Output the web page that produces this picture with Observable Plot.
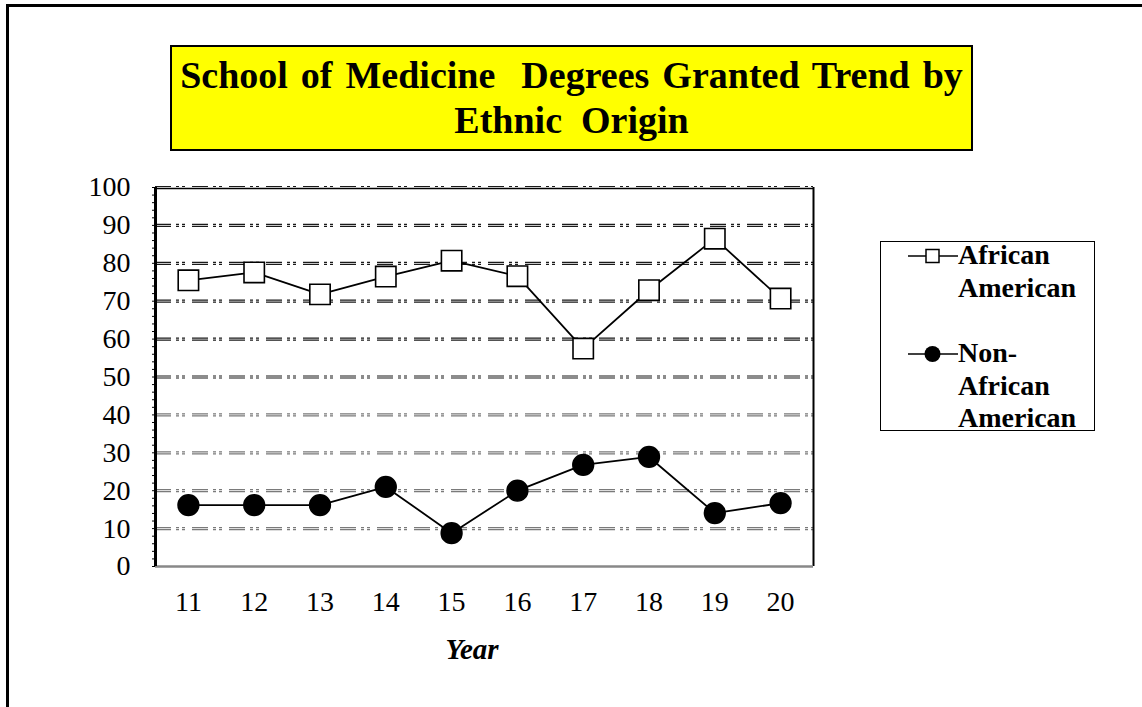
<!DOCTYPE html>
<html>
<head>
<meta charset="utf-8">
<script src="https://cdn.jsdelivr.net/npm/d3@7"></script>
<script src="https://cdn.jsdelivr.net/npm/@observablehq/plot@0.6"></script>
<style>
  html, body { margin: 0; padding: 0; background: #fff; }
  #wrap { position: relative; width: 1142px; height: 707px; overflow: hidden; background: #fff; font-family: "Liberation Serif", "Times New Roman", serif; }
  #frame { position: absolute; left: 6px; top: 4px; width: 2000px; height: 2000px; border-left: 3px solid #000; border-top: 3px solid #000; }
  #title { position: absolute; left: 170px; top: 45px; width: 799px; height: 96px; background: #ffff00; border: 2px solid #000; text-align: center; font-weight: bold; font-size: 38px; line-height: 45px; padding-top: 5.5px; box-sizing: content-box; white-space: pre; color: #000; }
  #title div { height: 45px; }
  #title .l1 { word-spacing: 3.5px; }
  #legend { position: absolute; left: 880px; top: 241px; width: 213px; height: 188px; border: 1.5px solid #000; background: #fff; }
  .ltext { position: absolute; left: 958px; font-weight: bold; font-size: 28px; line-height: 32.5px; white-space: pre; color: #000; }
  .lsym { position: absolute; left: 900px; }
  #xlabel { position: absolute; left: 372px; width: 200px; top: 631px; text-align: center; font-weight: bold; font-style: italic; font-size: 29px; line-height: 36px; }
  #chart { position: absolute; left: 0; top: 0; }
</style>
</head>
<body>
<div id="wrap">
  <div id="frame"></div>
  <div id="chart"></div>
  <div id="title"><div class="l1">School of Medicine  Degrees Granted Trend by</div><div>Ethnic  Origin</div></div>
  <div id="legend"></div>
  <svg class="lsym" style="top:246px" width="60" height="20">
    <line x1="8" x2="58" y1="10" y2="10" stroke="#000" stroke-width="1.5"></line>
    <rect x="26" y="3.5" width="13" height="13" fill="#fff" stroke="#000" stroke-width="1.5"></rect>
  </svg>
  <div class="ltext" style="top:239px">African
American</div>
  <svg class="lsym" style="top:344px" width="60" height="20">
    <line x1="8" x2="58" y1="10" y2="10" stroke="#000" stroke-width="1.5"></line>
    <circle cx="32.5" cy="10" r="8" fill="#000"></circle>
  </svg>
  <div class="ltext" style="top:337px">Non-
African
American</div>
  <div id="xlabel">Year</div>
</div>
<script>
const years = [11, 12, 13, 14, 15, 16, 17, 18, 19, 20];
const africanAmerican = [75.5, 77.6, 71.8, 76.5, 80.7, 76.6, 57.5, 72.9, 86.5, 70.7];
const nonAfricanAmerican = [16.2, 16.2, 16.2, 21.0, 8.8, 20.0, 26.8, 28.9, 14.1, 16.7];
const yTicks = [0, 10, 20, 30, 40, 50, 60, 70, 80, 90, 100];
const gridValues = [10, 20, 30, 40, 50, 60, 70, 80, 90, 100];
const minorTicks = d3.range(0, 101, 2);

const aa = years.map((y, i) => ({year: y, value: africanAmerican[i]}));
const naa = years.map((y, i) => ({year: y, value: nonAfricanAmerican[i]}));
const xDomain = [d3.min(years) - 0.5, d3.max(years) + 0.5];

const dash = "16,5,3,3,3,7";
const gridColor = d => d >= 50 ? "#1a1a1a" : "#7a7a7a";

const chart = Plot.plot({
  width: 1142,
  height: 707,
  marginLeft: 155,
  marginRight: 329,
  marginTop: 187,
  marginBottom: 141,
  style: {fontFamily: "'Liberation Serif', 'Times New Roman', serif", fontSize: "28px", background: "transparent", color: "#000", overflow: "visible"},
  x: {type: "linear", domain: xDomain},
  y: {domain: [0, 100]},
  marks: [
    Plot.ruleY(gridValues, {y: d => d, dy: -1, stroke: gridColor, strokeWidth: 1.2, strokeDasharray: dash}),
    Plot.ruleY(gridValues, {y: d => d, dy: 1, stroke: gridColor, strokeWidth: 1.2, strokeDasharray: dash}),
    Plot.ruleY([100], {stroke: "#000", strokeWidth: 1.5, dy: 1}),
    Plot.ruleX([xDomain[1]], {stroke: "#000", strokeWidth: 2}),
    Plot.ruleY([0], {stroke: "#888", strokeWidth: 2.5}),
    Plot.ruleX([xDomain[0]], {stroke: "#000", strokeWidth: 3}),
    Plot.axisY({ticks: minorTicks, tickSize: 3, text: null, label: null, strokeWidth: 1}),
    Plot.axisY({ticks: yTicks, tickSize: 0, tickPadding: 25, label: null, fontSize: 28, tickFormat: d => String(d)}),
    Plot.axisX({ticks: years, tickSize: 0, tickPadding: 25, label: null, fontSize: 28, tickFormat: d => String(d)}),
    Plot.line(aa, {x: "year", y: "value", stroke: "#000", strokeWidth: 1.8}),
    Plot.line(naa, {x: "year", y: "value", stroke: "#000", strokeWidth: 1.8}),
    Plot.dot(aa, {x: "year", y: "value", symbol: "square", r: 11.5, fill: "#fff", stroke: "#000", strokeWidth: 1.6}),
    Plot.dot(naa, {x: "year", y: "value", symbol: "circle", r: 10.4, fill: "#000", stroke: "#000"})
  ]
});
document.getElementById("chart").appendChild(chart);
</script>
</body>
</html>
